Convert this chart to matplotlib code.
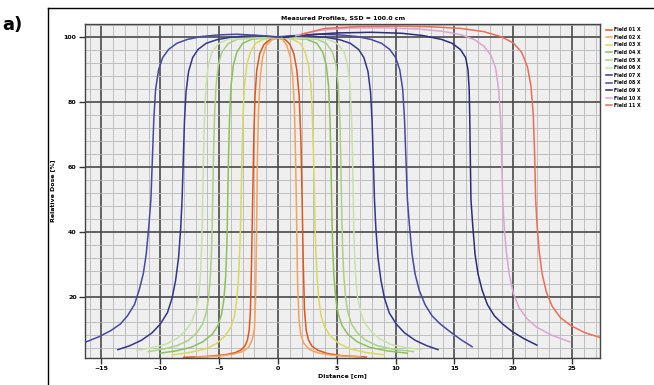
import matplotlib
matplotlib.use("Agg")
import matplotlib.pyplot as plt
from matplotlib.lines import Line2D
from matplotlib.ticker import MultipleLocator

title = "Measured Profiles, SSD = 100.0 cm"
x_label = "Distance [cm]"
y_label = "Relative Dose [%]"

labels = ["Field 01 X", "Field 02 X", "Field 03 X", "Field 04 X", "Field 05 X", "Field 06 X",
          "Field 07 X", "Field 08 X", "Field 09 X", "Field 10 X", "Field 11 X"]
colors = ["#e0561c", "#f5a25a", "#d9d860", "#8cc05a", "#a9d283", "#c6e2a8",
          "#35358a", "#4848a2", "#2c2c78", "#dba4d4", "#ea6e58"]

# profile points (x in cm, y in %)
x_o1 = [-8.0, -6.0, -4.5, -3.6, -3.1, -2.8, -2.6, -2.45, -2.35, -2.25, -2.15, -2.05, -1.95,
        -1.8, -1.55, -1.2, -0.7, 0.0, 0.6, 1.0, 1.35, 1.6, 1.8, 1.95, 2.05, 2.15, 2.25,
        2.4, 2.6, 2.9, 3.4, 4.2, 5.5, 7.5]
y_o1 = [1.2, 1.5, 2.0, 2.7, 3.6, 4.8, 6.5, 9.5, 15, 30, 50, 70, 82,
        90, 95, 97.8, 99.3, 99.8, 99.4, 98, 95, 90, 82, 68, 50, 30, 16,
        9.5, 6.5, 4.6, 3.4, 2.4, 1.7, 1.3]
x_o2 = [-7.0, -5.0, -3.8, -3.0, -2.5, -2.2, -2.0, -1.9, -1.82, -1.75, -1.65, -1.5, -1.3,
        -1.0, -0.5, 0.0, 0.4, 0.75, 1.05, 1.25, 1.4, 1.5, 1.58, 1.66, 1.78, 1.95, 2.2,
        2.7, 3.4, 4.5, 5.7, 7.0]
y_o2 = [1.3, 1.6, 2.2, 3.0, 4.3, 6.5, 10, 20, 40, 62, 78, 88, 94,
        97.5, 99.3, 99.8, 99.4, 97.5, 94, 88, 78, 62, 45, 25, 13, 8, 5.5,
        3.6, 2.6, 1.9, 1.6, 1.4]
x_yg = [-9.0, -7.5, -6.2, -5.2, -4.5, -4.0, -3.7, -3.5, -3.35, -3.25, -3.18, -3.13, -3.07,
        -2.98, -2.85, -2.65, -2.35, -1.9, -1.2, 0.0, 1.2, 1.9, 2.3, 2.6, 2.8, 2.93, 3.03,
        3.1, 3.15, 3.22, 3.32, 3.47, 3.67, 3.97, 4.47, 5.17, 6.17, 7.47, 9.0]
y_yg = [2.0, 2.7, 3.8, 5.5, 7.8, 10.5, 14, 19, 26, 34, 42, 50, 62,
        75, 85, 91.5, 95.5, 98.2, 99.5, 100, 99.5, 98.2, 95.5, 91.5, 85, 75, 62,
        50, 42, 34, 26, 19, 14, 10.5, 7.8, 5.5, 3.8, 2.7, 2.0]
x_g1 = [-10.0, -8.7, -7.4, -6.4, -5.6, -5.1, -4.8, -4.6, -4.45, -4.36, -4.31, -4.27, -4.21,
        -4.12, -3.99, -3.79, -3.49, -3.0, -2.2, 0.0, 2.4, 3.3, 3.8, 4.1, 4.3, 4.42, 4.5,
        4.56, 4.6, 4.66, 4.76, 4.92, 5.13, 5.45, 5.95, 6.75, 7.8, 9.3, 11.0]
y_g1 = [2.5, 3.2, 4.3, 6.0, 8.3, 11, 14.5, 19, 26, 34, 42, 50, 62,
        75, 85, 91.5, 95.5, 98.2, 99.5, 100, 99.5, 98.2, 95.5, 91.5, 85, 75, 62,
        50, 42, 34, 26, 19, 14.5, 11, 8.3, 6.0, 4.3, 3.2, 2.5]
x_g2 = [-11.0, -9.8, -8.6, -7.6, -6.9, -6.4, -6.1, -5.9, -5.75, -5.65, -5.59, -5.55, -5.49,
        -5.4, -5.27, -5.07, -4.77, -4.2, -3.4, 0.0, 3.3, 4.1, 4.63, 4.93, 5.13, 5.26, 5.34,
        5.4, 5.44, 5.5, 5.6, 5.75, 5.95, 6.25, 6.75, 7.45, 8.45, 9.8, 11.5]
y_g2 = [3.0, 3.7, 4.8, 6.5, 8.8, 11.5, 15, 19.5, 26, 34, 42, 50, 62,
        75, 85, 91.5, 95.5, 98.2, 99.5, 100, 99.5, 98.2, 95.5, 91.5, 85, 75, 62,
        50, 42, 34, 26, 19.5, 15, 11.5, 8.8, 6.5, 4.8, 3.7, 3.0]
x_g3 = [-12.0, -10.8, -9.6, -8.6, -7.9, -7.35, -7.0, -6.75, -6.6, -6.5, -6.44, -6.4, -6.34,
        -6.25, -6.12, -5.92, -5.62, -5.0, -4.2, 0.0, 4.2, 5.0, 5.62, 5.92, 6.12, 6.25, 6.34,
        6.4, 6.44, 6.5, 6.6, 6.75, 7.0, 7.35, 7.9, 8.6, 9.6, 10.9, 12.2]
y_g3 = [3.4, 4.1, 5.2, 7.0, 9.3, 12, 15.5, 20, 26, 34, 42, 50, 62,
        75, 85, 91.5, 95.5, 98.2, 99.5, 100, 99.5, 98.2, 95.5, 91.5, 85, 75, 62,
        50, 42, 34, 26, 20, 15.5, 12, 9.3, 7.0, 5.2, 4.2, 3.6]
x_n1 = [-13.6, -12.6, -11.6, -10.7, -10.0, -9.4, -9.0, -8.7, -8.45, -8.27, -8.15, -8.05, -7.95,
        -7.82, -7.6, -7.25, -6.8, -6.1, -5.2, -4.0, -2.0, 0.0, 2.0, 4.0, 5.25, 6.15, 6.85,
        7.3, 7.65, 7.87, 8.0, 8.1, 8.2, 8.32, 8.5, 8.75, 9.05, 9.45, 10.05, 10.75, 11.65,
        12.65, 13.6]
y_n1 = [3.6, 4.8, 6.5, 8.8, 11.5, 15, 19.5, 25, 32, 41, 50, 62, 74,
        83, 89.5, 93.8, 96.3, 98.2, 99.3, 100.1, 100.6, 100.1, 100.6, 100.1, 99.3, 98.2, 96.3,
        93.8, 89.5, 83, 74, 62, 50, 41, 32, 25, 19.5, 15, 11.5, 8.8, 6.5,
        4.8, 3.6]
x_n2 = [-16.3, -15.2, -14.2, -13.4, -12.8, -12.2, -11.8, -11.45, -11.2, -10.97, -10.8, -10.68,
        -10.55, -10.4, -10.15, -9.8, -9.3, -8.6, -7.7, -6.5, -5.0, -3.5, -1.5, 0.0, 1.5, 3.5,
        5.2, 6.7, 7.9, 8.8, 9.5, 10.0, 10.35, 10.6, 10.75, 10.88, 11.0, 11.17, 11.4, 11.65,
        12.0, 12.5, 13.1, 13.8, 14.6, 15.5, 16.5]
y_n2 = [6.0, 7.6, 9.5, 11.5, 14, 17.5, 22, 27, 33, 42, 50, 62,
        75, 84, 90, 93.8, 96.3, 98.2, 99.4, 100.3, 100.8, 101.0, 100.6, 100.2, 100.6, 101.0,
        100.8, 100.3, 99.4, 98.2, 96.3, 93.8, 90, 84, 75, 62, 50, 42, 33, 27,
        22, 17.5, 14, 11.5, 9.2, 6.8, 4.5]
x_n3 = [0.5, 2.5, 5.0, 8.0, 10.5, 12.3, 13.9, 14.8, 15.5, 15.95, 16.15, 16.25, 16.3, 16.35,
        16.4, 16.55, 16.75, 17.0, 17.35, 17.8, 18.4, 19.1, 19.9, 20.9, 22.0]
y_n3 = [100.0, 100.8, 101.4, 101.6, 101.3, 100.6, 99.4, 98.2, 96.3, 93.8, 90, 84, 75, 62,
        50, 42, 33, 27, 22, 17.5, 14, 11.5, 9.2, 7.0, 5.0]
x_lv = [1.5, 3.5, 6.0, 9.0, 12.0, 14.0, 15.6, 16.7, 17.5, 18.1, 18.5, 18.75, 18.92, 19.02,
        19.1, 19.22, 19.4, 19.65, 20.0, 20.5, 21.2, 22.0, 23.3, 24.8]
y_lv = [100.5, 102.2, 102.9, 103.0, 102.6, 101.9, 100.8, 99.3, 97.3, 94.5, 90.5, 84, 75, 62,
        50, 42, 34, 27, 21, 16.5, 13, 10.5, 8.0, 6.0]
x_rd = [2.0, 4.0, 7.0, 10.0, 13.0, 15.5, 17.5, 19.0, 20.0, 20.7, 21.2, 21.5, 21.7, 21.82,
        21.9, 22.02, 22.2, 22.45, 22.8, 23.3, 24.0, 24.9, 26.1, 27.5]
y_rd = [101.0, 102.8, 103.4, 103.5, 103.3, 102.8, 101.8, 100.2, 98.3, 95.5, 91, 85, 76, 63,
        50, 42, 34, 27, 21.5, 17, 13.5, 11, 8.8, 7.2]

profiles = [(x_o1, y_o1), (x_o2, y_o2), (x_yg, y_yg), (x_g1, y_g1), (x_g2, y_g2), (x_g3, y_g3),
            (x_n1, y_n1), (x_n2, y_n2), (x_n3, y_n3), (x_lv, y_lv), (x_rd, y_rd)]

fig = plt.figure(figsize=(6.54, 3.85), dpi=100)
ax = fig.add_axes([0.130, 0.070, 0.788, 0.868])
ax.set_facecolor("#efefef")

for (xs, ys), lab, col in zip(profiles, labels, colors):
    ax.plot(xs, ys, color=col, linewidth=1.1, label=lab, solid_joinstyle="round")

ax.set_xlim(-16.4, 27.4)
ax.set_ylim(1, 104.2)
ax.xaxis.set_major_locator(MultipleLocator(5))
ax.xaxis.set_minor_locator(MultipleLocator(1))
ax.yaxis.set_major_locator(MultipleLocator(20))
ax.yaxis.set_minor_locator(MultipleLocator(4))
ax.grid(which="major", color="#4a4a4a", linewidth=1.2)
ax.grid(which="minor", color="#b8b8b8", linewidth=0.6)
ax.set_axisbelow(True)
for s in ax.spines.values():
    s.set_color("#444444")
    s.set_linewidth(1.0)
ax.tick_params(which="major", labelsize=4.5, length=4, width=1.0, color="#333333", pad=2)
ax.tick_params(which="minor", length=0)
for t in ax.get_xticklabels() + ax.get_yticklabels():
    t.set_fontweight("bold")

ax.set_title(title, fontsize=4.5, fontweight="bold", pad=3)
ax.set_xlabel(x_label, fontsize=4.5, fontweight="bold", labelpad=1)
ax.set_ylabel(y_label, fontsize=4.5, fontweight="bold", labelpad=6)

ax.legend(loc="upper left", bbox_to_anchor=(1.005, 1.0), frameon=False,
          handlelength=1.2, handletextpad=0.5, labelspacing=0.55, borderaxespad=0.3,
          prop={"weight": "bold", "size": 3.4})

# frame of the inset picture and panel letter
fig.add_artist(Line2D([0.0734, 0.0734], [0.0, 0.979], color="black", linewidth=1.0))
fig.add_artist(Line2D([0.0734, 1.0], [0.979, 0.979], color="black", linewidth=1.0))
fig.text(0.003, 0.935, "a)", fontsize=13, fontweight="bold", ha="left", va="center")

fig.savefig("out.png", dpi=100)
